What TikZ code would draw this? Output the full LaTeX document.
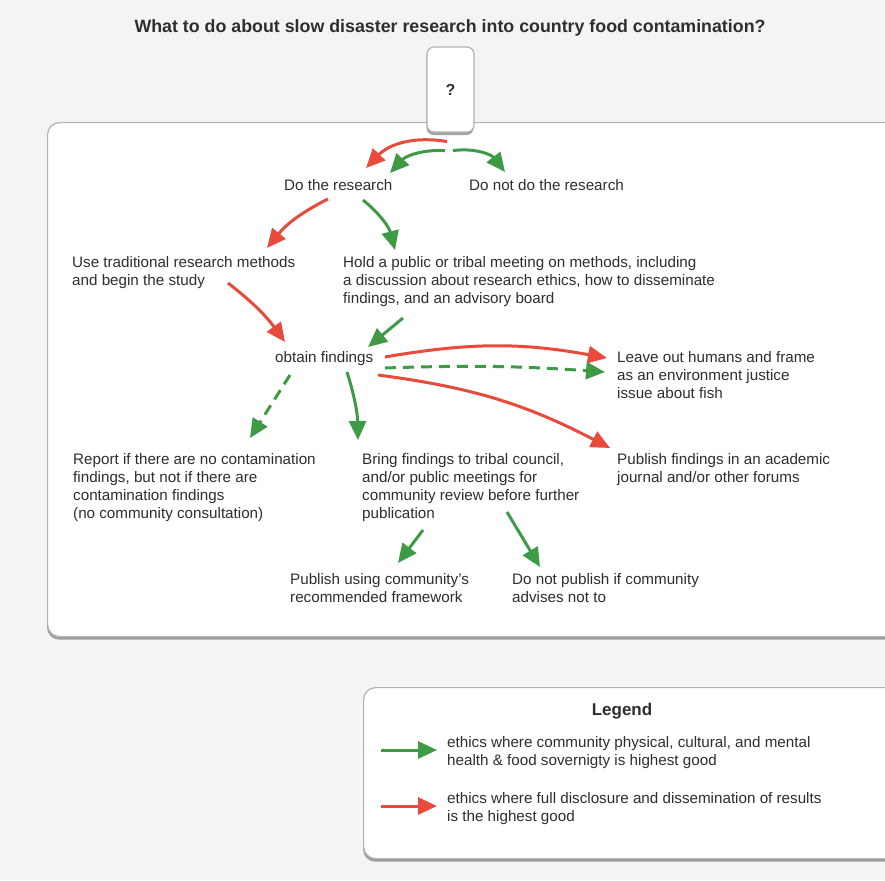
\documentclass[tikz,border=0pt]{standalone}
\usepackage{fontspec}
\setmainfont{Liberation Sans}
\usetikzlibrary{arrows.meta,shadows}
\definecolor{bgcol}{HTML}{F3F4F4}
\definecolor{arrred}{HTML}{E84A3B}
\definecolor{arrgreen}{HTML}{3F9A45}
\definecolor{txtcol}{HTML}{2E2E2E}
\newcommand{\lblfont}{\fontsize{15.2}{18}\selectfont}
\newcommand{\titlefont}{\fontsize{17.8}{20}\selectfont\bfseries}
\tikzset{
  panel/.style={draw=black!30, fill=white, line width=1.2pt, rounded corners=12pt,
    drop shadow={shadow xshift=-0.5pt, shadow yshift=-3pt, opacity=0.55, fill=black!65}},
  lbl/.style={align=left, inner sep=0pt, anchor=north west, font=\lblfont, text=txtcol},
  redarr/.style={draw=arrred, line width=3pt, -{Triangle[length=19pt,width=17pt]}},
  grnarr/.style={draw=arrgreen, line width=3pt, -{Triangle[length=19pt,width=17pt]}},
  dsh/.style={dash pattern=on 11pt off 7pt}
}
\begin{document}
\begin{tikzpicture}[x=1pt,y=-1pt]
\useasboundingbox (0,0) rectangle (885,880);
\clip (0,0) rectangle (885,880);
\fill[bgcol] (0,0) rectangle (885,880);

\node (title) at (450,28) [font=\titlefont, text=txtcol] {What to do about slow disaster research into country food contamination?};

% main panel and question tab
\node (mainbox) at (47,122) [panel, anchor=north west, minimum width=860pt, minimum height=514pt] {};
\node (q) at (450.5,89.5) [panel, rounded corners=7pt, minimum width=47pt, minimum height=85pt,
  font=\fontsize{16}{18}\selectfont\bfseries, text=txtcol] {?};

% choices
\node (res)    at (284,179.5) [lbl] {Do the research};
\node (nores)  at (469,179.5) [lbl] {Do not do the research};
\node (trad)   at (72,256.5)  [lbl] {Use traditional research methods\\and begin the study};
\node (meet)   at (343,256.5) [lbl] {Hold a public or tribal meeting on methods, including\\a discussion about research ethics, how to disseminate\\findings, and an advisory board};
\node (find)   at (275,351.5) [lbl] {obtain findings};
\node (leave)  at (617,351.5) [lbl] {Leave out humans and frame\\as an environment justice\\issue about fish};
\node (report) at (73,453.5)  [lbl] {Report if there are no contamination\\findings, but not if there are\\contamination findings\\(no community consultation)};
\node (bring)  at (362,453.5) [lbl] {Bring findings to tribal council,\\and/or public meetings for\\community review before further\\publication};
\node (pub)    at (617,453.5) [lbl] {Publish findings in an academic\\journal and/or other forums};
\node (comm)   at (290,573.5) [lbl] {Publish using community's\\recommended framework};
\node (nopub)  at (512,573.5) [lbl] {Do not publish if community\\advises not to};

% arrows
\draw[redarr] ([shift={(-3.5,9)}]q.south) to[bend right=28] ([shift={(82,-11.5)}]res.north west);
\draw[grnarr] ([shift={(-5.5,18)}]q.south) to[bend right=25] ([shift={(106,-6.5)}]res.north west);
\draw[grnarr] ([shift={(2.5,18)}]q.south) to[bend left=30] ([shift={(36,-7.5)}]nores.north west);
\draw[redarr] ([shift={(44,19.5)}]res.north west) to[bend right=12] ([shift={(195,-8.5)}]trad.north west);
\draw[grnarr] ([shift={(79,20.5)}]res.north west) to[bend left=18] ([shift={(52,-6.5)}]meet.north west);
\draw[redarr] ([shift={(156,26.5)}]trad.north west) to[bend left=8] ([shift={(10,-9.5)}]find.north west);
\draw[grnarr] ([shift={(60,61.5)}]meet.north west) -- ([shift={(93,-4.5)}]find.north west);
\draw[redarr] ([shift={(110,5.5)}]find.north west) to[bend left=10] ([shift={(-10,6.5)}]leave.north west);
\draw[grnarr,dsh] ([shift={(110,16.5)}]find.north west) to[bend left=3] ([shift={(-12,20.5)}]leave.north west);
\draw[redarr] ([shift={(103,23.5)}]find.north west) to[bend left=10] ([shift={(-7,-5.5)}]pub.north west);
\draw[grnarr,dsh] ([shift={(15,23.5)}]find.north west) -- ([shift={(177,-15.5)}]report.north west);
\draw[grnarr] ([shift={(72,20.5)}]find.north west) to[bend left=8] ([shift={(-4,-13.5)}]bring.north west);
\draw[grnarr] ([shift={(61,76.5)}]bring.north west) -- ([shift={(108,-10.5)}]comm.north west);
\draw[grnarr] ([shift={(145,58.5)}]bring.north west) -- ([shift={(28,-6.5)}]nopub.north west);

% legend
\node (legbox) at (363,687) [panel, anchor=north west, minimum width=540pt, minimum height=171pt] {};
\node (legtitle) at (622,711) [font=\fontsize{17}{20}\selectfont\bfseries, text=txtcol] {Legend};
\node (gtxt) at (447,736.5) [lbl] {ethics where community physical, cultural, and mental\\health \& food sovernigty is highest good};
\node (rtxt) at (447,792.5) [lbl] {ethics where full disclosure and dissemination of results\\is the highest good};
\draw[grnarr] ([shift={(-66,13.5)}]gtxt.north west) -- ([shift={(-10,13.5)}]gtxt.north west);
\draw[redarr] ([shift={(-66,13.5)}]rtxt.north west) -- ([shift={(-10,13.5)}]rtxt.north west);
\end{tikzpicture}
\end{document}
